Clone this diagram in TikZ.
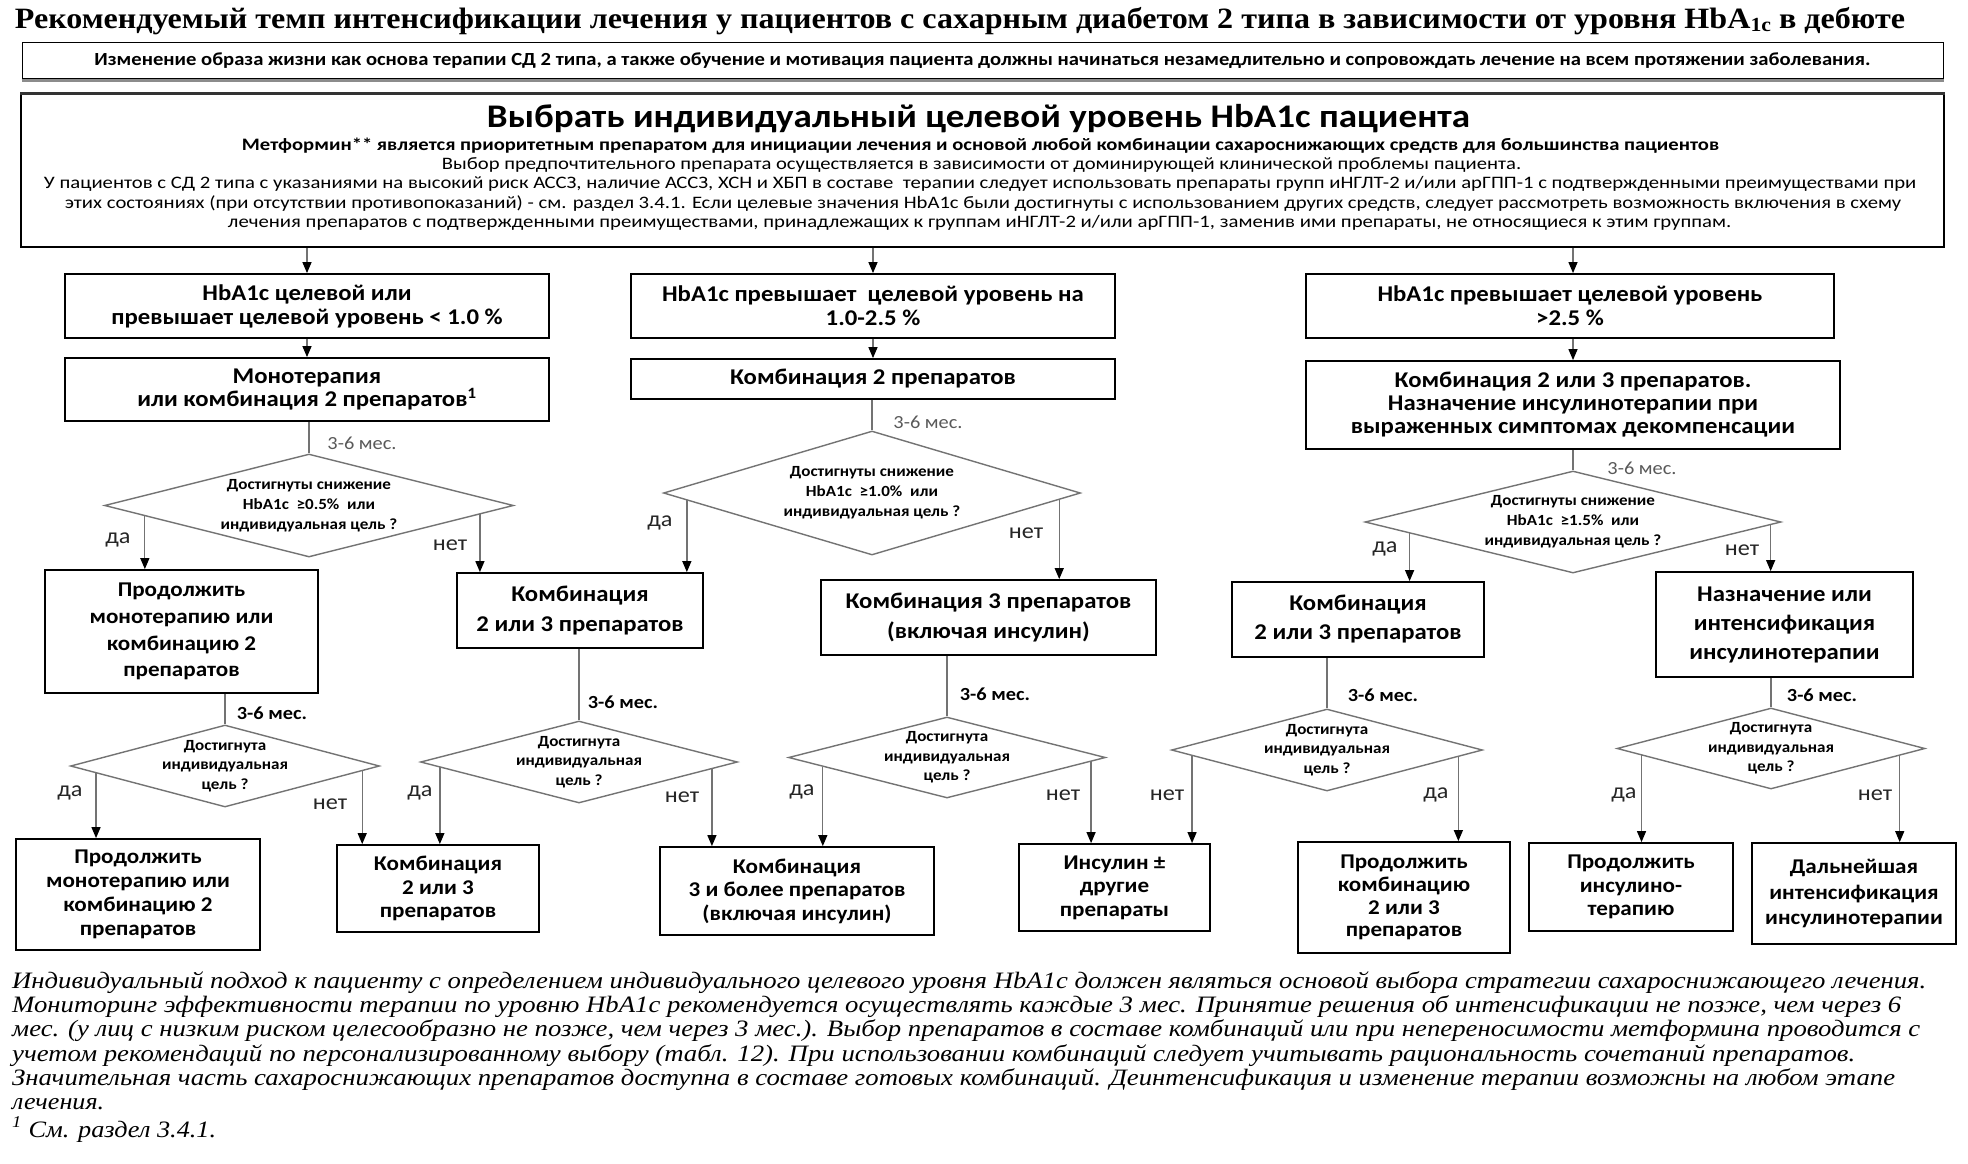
\documentclass[tikz,border=0pt]{standalone}
\usepackage{fontspec}
\usepackage{graphicx}
\setmainfont{Carlito}[FakeStretch=1.1]
\newfontfamily\tnr{Liberation Serif}
\usetikzlibrary{shapes.geometric,arrows.meta,calc}
\newcommand\fsz[2]{\fontsize{#1}{#2}\selectfont}
\newcommand\fitw[2]{\resizebox{#1}{\height}{#2}}
\tikzset{
 box/.style={draw=black, line width=1.8pt, rectangle, inner sep=0pt, align=center, font=\bfseries\fsz{22.5}{24}},
 boxb/.style={box, font=\bfseries\fsz{21}{24}},
 dia/.style={draw=black!55, line width=1.4pt, shape=diamond, inner sep=0pt},
 dtext/.style={align=center, font=\bfseries\fsz{15.5}{20}, inner sep=0pt},
 gtext/.style={align=center, font=\bfseries\fsz{15.5}{19.5}, inner sep=0pt},
 conn/.style={draw=black!55, line width=1.3pt},
 arr/.style={conn, -{Triangle[length=11pt,width=9pt,color=black]}},
 yn/.style={font=\fsz{22}{24}, text=black!85, inner sep=0pt},
 mes/.style={font=\fsz{18.5}{20}, text=black!65, inner sep=0pt},
 mesb/.style={font=\bfseries\fsz{18.5}{20}, text=black, inner sep=0pt},
 line/.style={anchor=base, inner sep=0pt},
 foot/.style={anchor=base west, inner sep=0pt, font=\tnr\itshape\fsz{23.5}{24}},
}
\begin{document}
\begin{tikzpicture}[x=1pt,y=-1pt]
\fill[white] (0,0) rectangle (1968,1163);
\useasboundingbox (0,0) rectangle (1968,1163);

% title
\node[line] (title) at (960,28) {\tnr\bfseries\fsz{29.5}{32}\fitw{1890pt}{Рекомендуемый темп интенсификации лечения у пациентов с сахарным диабетом 2 типа в зависимости от уровня HbA\raisebox{-0.12em}{\fsz{20}{20}1c} в дебюте}};

% lifestyle box
\node[draw=black, line width=1pt, minimum width=1921pt, minimum height=36pt, inner sep=0pt] (life) at (982.5,60.8) {\bfseries\fsz{18.5}{20}\fitw{1776pt}{Изменение образа жизни как основа терапии СД 2 типа, а также обучение и мотивация пациента должны начинаться незамедлительно и сопровождать лечение на всем протяжении заболевания.}};
\draw[black!45, line width=2.5pt] ([yshift=-1.2pt]life.south west) -- ([yshift=-1.2pt]life.south east);

% goal box
\node[draw=black, line width=1.5pt, minimum width=1923pt, minimum height=153pt, inner sep=0pt] (goal) at (982.5,170.5) {};
\draw[black!80, line width=3pt] (goal.north west) -- (goal.north east);
\node[line] (g1) at (978.5,127) {\bfseries\fsz{33}{36}\fitw{983pt}{Выбрать индивидуальный целевой уровень HbA1c пациента}};
\node[line] (g2) at (980.5,150) {\bfseries\fsz{17.5}{20}\fitw{1477pt}{Метформин** является приоритетным препаратом для инициации лечения и основой любой комбинации сахароснижающих средств для большинства пациентов}};
\node[line] (g3) at (981.5,169.3) {\fsz{17.5}{20}\fitw{1079pt}{Выбор предпочтительного препарата осуществляется в зависимости от доминирующей клинической проблемы пациента.}};
\node[line] (g4) at (980,188.8) {\fsz{17.5}{20}\fitw{1872pt}{У пациентов с СД 2 типа с указаниями на высокий риск АССЗ, наличие АССЗ, ХСН и ХБП в составе\ \ терапии следует использовать препараты групп иНГЛТ-2 и/или арГПП-1 с подтвержденными преимуществами при}};
\node[line] (g5) at (983,208.2) {\fsz{17.5}{20}\fitw{1836pt}{этих состояниях (при отсутствии противопоказаний) - см. раздел 3.4.1. Если целевые значения HbA1c были достигнуты с использованием других средств, следует рассмотреть возможность включения в схему}};
\node[line] (g6) at (979.5,227.6) {\fsz{17.5}{20}\fitw{1503pt}{лечения препаратов с подтвержденными преимуществами, принадлежащих к группам иНГЛТ-2 и/или арГПП-1, заменив ими препараты, не относящиеся к этим группам.}};

% level 1
\node[box, minimum width=484pt, minimum height=64pt] (A1) at (307,306) {HbA1c целевой или\\превышает целевой уровень < 1.0 \%};
\node[box, minimum width=484pt, minimum height=63pt, font=\bfseries\fsz{22.5}{23}] (A2) at (307,389.5) {Монотерапия\\или комбинация 2 препаратов\textsuperscript{1}};
\node[box, minimum width=484pt, minimum height=64pt] (C1) at (873,306) {HbA1c превышает\ \ целевой уровень на\\1.0-2.5 \%};
\node[box, minimum width=484pt, minimum height=40pt] (C2) at (873,379) {Комбинация 2 препаратов};
\node[box, minimum width=528pt, minimum height=64pt] (E1) at (1570,306) {HbA1c превышает целевой уровень\\>2.5 \%};
\node[box, minimum width=534pt, minimum height=88pt, font=\bfseries\fsz{22.5}{23}] (E2) at (1573,405) {Комбинация 2 или 3 препаратов.\\Назначение инсулинотерапии при\\выраженных симптомах декомпенсации};

\draw[arr] (goal.south -| A1.north) -- (A1.north);
\draw[arr] (goal.south -| C1.north) -- (C1.north);
\draw[arr] (goal.south -| E2.north) -- (E1.north -| E2.north);
\draw[arr] (A1.south) -- (A2.north);
\draw[arr] (C1.south) -- (C2.north);
\draw[arr] (E1.south -| E2.north) -- (E2.north);

% first diamonds
\node[dia, minimum width=409pt, minimum height=103pt] (D1) at (309,505.5) {};
\node[dtext] (D1t) at (D1) {Достигнуты снижение\\HbA1c\ \ ≥0.5\%\ \ или\\индивидуальная цель ?};
\node[dia, minimum width=417pt, minimum height=124pt] (D2) at (872,493) {};
\node[dtext] (D2t) at (D2) {Достигнуты снижение\\HbA1c\ \ ≥1.0\%\ \ или\\индивидуальная цель ?};
\node[dia, minimum width=416pt, minimum height=102pt] (D3) at (1573,522) {};
\node[dtext] (D3t) at (D3) {Достигнуты снижение\\HbA1c\ \ ≥1.5\%\ \ или\\индивидуальная цель ?};

\draw[conn] (D1.north |- A2.south) -- (D1.north);
\draw[conn] (D2.north |- C2.south) -- (D2.north);
\draw[conn] (D3.north |- E2.south) -- (D3.north);
\node[mes] (M1) at (362,443) {3-6 мес.};
\node[mes] (M2) at (928,422) {3-6 мес.};
\node[mes] (M3) at (1642,468) {3-6 мес.};

% level 2 boxes
\node[boxb, minimum width=273pt, minimum height=123pt, font=\bfseries\fsz{21}{26.7}] (B1) at (181.5,631.5) {Продолжить\\монотерапию или\\комбинацию 2\\препаратов};
\node[box, minimum width=246pt, minimum height=75pt, font=\bfseries\fsz{22.5}{30}] (B2) at (580,610.5) {Комбинация\\2 или 3 препаратов};
\node[box, minimum width=335pt, minimum height=75pt, font=\bfseries\fsz{22.5}{30}] (C3) at (988.5,617.5) {Комбинация 3 препаратов\\(включая инсулин)};
\node[box, minimum width=252pt, minimum height=75pt, font=\bfseries\fsz{22.5}{29}] (F1) at (1358,619.5) {Комбинация\\2 или 3 препаратов};
\node[box, minimum width=257pt, minimum height=105pt, font=\bfseries\fsz{22.5}{29}] (F2) at (1784.5,624.5) {Назначение или\\интенсификация\\инсулинотерапии};

\coordinate (d1a) at ($(D1.west)!0.2!(D1.south)$);
\coordinate (d1b) at ($(D1.east)!0.167!(D1.south)$);
\coordinate (d2a) at ($(D2.west)!0.115!(D2.south)$);
\coordinate (d2b) at ($(D2.east)!0.105!(D2.south)$);
\coordinate (d3a) at ($(D3.west)!0.217!(D3.south)$);
\coordinate (d3b) at ($(D3.east)!0.053!(D3.south)$);
\draw[arr] (d1a) -- (d1a |- B1.north);
\draw[arr] (d1b) -- (d1b |- B2.north);
\draw[arr] (d2a) -- (d2a |- B2.north);
\draw[arr] (d2b) -- (d2b |- C3.north);
\draw[arr] (d3a) -- (d3a |- F1.north);
\draw[arr] (d3b) -- (d3b |- F2.north);
\node[yn] (y1) at (118,540) {да};
\node[yn] (n1) at (450,545) {нет};
\node[yn] (y2) at (660,523) {да};
\node[yn] (n2) at (1026,533) {нет};
\node[yn] (y3) at (1385,549) {да};
\node[yn] (n3) at (1742,550) {нет};

% second diamonds
\node[dia, minimum width=309pt, minimum height=82pt] (G1) at (225,766) {};
\node[gtext] (G1t) at (G1) {Достигнута\\индивидуальная\\цель ?};
\node[dia, minimum width=317pt, minimum height=82pt] (G2) at (579,762) {};
\node[gtext] (G2t) at (G2) {Достигнута\\индивидуальная\\цель ?};
\node[dia, minimum width=317pt, minimum height=81pt] (G3) at (947,757.5) {};
\node[gtext] (G3t) at (G3) {Достигнута\\индивидуальная\\цель ?};
\node[dia, minimum width=311pt, minimum height=82pt] (G4) at (1327,750) {};
\node[gtext] (G4t) at (G4) {Достигнута\\индивидуальная\\цель ?};
\node[dia, minimum width=308pt, minimum height=81pt] (G5) at (1771,748.5) {};
\node[gtext] (G5t) at (G5) {Достигнута\\индивидуальная\\цель ?};

\draw[conn] (G1.north |- B1.south) -- (G1.north);
\draw[conn] (G2.north |- B2.south) -- (G2.north);
\draw[conn] (G3.north |- C3.south) -- (G3.north);
\draw[conn] (G4.north |- F1.south) -- (G4.north);
\draw[conn] (G5.north |- F2.south) -- (G5.north);
\node[mesb] (M4) at (272,713) {3-6 мес.};
\node[mesb] (M5) at (623,702) {3-6 мес.};
\node[mesb] (M6) at (995,694) {3-6 мес.};
\node[mesb] (M7) at (1383,695) {3-6 мес.};
\node[mesb] (M8) at (1822,695) {3-6 мес.};

% bottom boxes
\node[boxb, minimum width=244pt, minimum height=111pt] (H1) at (138,894.5) {Продолжить\\монотерапию или\\комбинацию 2\\препаратов};
\node[boxb, minimum width=202pt, minimum height=87pt, font=\bfseries\fsz{21}{23.5}] (H2) at (438,888.5) {Комбинация\\2 или 3\\препаратов};
\node[boxb, minimum width=274pt, minimum height=88pt, font=\bfseries\fsz{21}{23.5}] (H3) at (797,891) {Комбинация\\3 и более препаратов\\(включая инсулин)};
\node[boxb, minimum width=191pt, minimum height=87pt, font=\bfseries\fsz{21}{23.5}] (H4) at (1114.5,887.5) {Инсулин ±\\другие\\препараты};
\node[boxb, minimum width=212pt, minimum height=111pt, font=\bfseries\fsz{21}{22.7}] (H5) at (1404,897.5) {Продолжить\\комбинацию\\2 или 3\\препаратов};
\node[boxb, minimum width=204pt, minimum height=88pt, font=\bfseries\fsz{21}{23.5}] (H6) at (1631,887) {Продолжить\\инсулино-\\терапию};
\node[boxb, minimum width=204pt, minimum height=101pt, font=\bfseries\fsz{21}{25.5}] (H7) at (1854,893.5) {Дальнейшая\\интенсификация\\инсулинотерапии};

\coordinate (g1a) at ($(G1.west)!0.169!(G1.south)$);
\coordinate (g1b) at ($(G1.east)!0.116!(G1.south)$);
\coordinate (g2a) at ($(G2.west)!0.126!(G2.south)$);
\coordinate (g2b) at ($(G2.east)!0.165!(G2.south)$);
\coordinate (g3a) at ($(G3.west)!0.22!(G3.south)$);
\coordinate (g3b) at ($(G3.east)!0.095!(G3.south)$);
\coordinate (g4a) at ($(G4.west)!0.136!(G4.south)$);
\coordinate (g4b) at ($(G4.east)!0.159!(G4.south)$);
\coordinate (g5a) at ($(G5.west)!0.163!(G5.south)$);
\coordinate (g5b) at ($(G5.east)!0.168!(G5.south)$);
\draw[arr] (g1a) -- (g1a |- H1.north);
\draw[arr] (g1b) -- (g1b |- H2.north);
\draw[arr] (g2a) -- (g2a |- H2.north);
\draw[arr] (g2b) -- (g2b |- H3.north);
\draw[arr] (g3a) -- (g3a |- H3.north);
\draw[arr] (g3b) -- (g3b |- H4.north);
\draw[arr] (g4a) -- (g4a |- H4.north);
\draw[arr] (g4b) -- (g4b |- H5.north);
\draw[arr] (g5a) -- (g5a |- H6.north);
\draw[arr] (g5b) -- (g5b |- H7.north);
\node[yn] (y4) at (70,793) {да};
\node[yn] (n4) at (330,804) {нет};
\node[yn] (y5) at (420,793) {да};
\node[yn] (n5) at (682,797) {нет};
\node[yn] (y6) at (802,792) {да};
\node[yn] (n6) at (1063,795) {нет};
\node[yn] (n7) at (1167,795) {нет};
\node[yn] (y7) at (1436,795) {да};
\node[yn] (y8) at (1624,795) {да};
\node[yn] (n8) at (1875,795) {нет};

% footnote
\node[foot] (f1) at (12,988) {\fitw{1914pt}{Индивидуальный подход к пациенту с определением индивидуального целевого уровня HbA1c должен являться основой выбора стратегии сахароснижающего лечения.}};
\node[foot] (f2) at (12,1012.4) {\fitw{1889pt}{Мониторинг эффективности терапии по уровню HbA1c рекомендуется осуществлять каждые 3 мес. Принятие решения об интенсификации не позже, чем через 6}};
\node[foot] (f3) at (12,1036.8) {\fitw{1908pt}{мес. (у лиц с низким риском целесообразно не позже, чем через 3 мес.). Выбор препаратов в составе комбинаций или при непереносимости метформина проводится с}};
\node[foot] (f4) at (12,1061.2) {\fitw{1843pt}{учетом рекомендаций по персонализированному выбору (табл. 12). При использовании комбинаций следует учитывать рациональность сочетаний препаратов.}};
\node[foot] (f5) at (12,1085.6) {\fitw{1883pt}{Значительная часть сахароснижающих препаратов доступна в составе готовых комбинаций. Деинтенсификация и изменение терапии возможны на любом этапе}};
\node[foot] (f6) at (12,1109) {\fitw{92pt}{лечения.}};
\node[foot] (f7) at (12,1137) {\fitw{204pt}{\textsuperscript{1} См. раздел 3.4.1.}};
\end{tikzpicture}
\end{document}
